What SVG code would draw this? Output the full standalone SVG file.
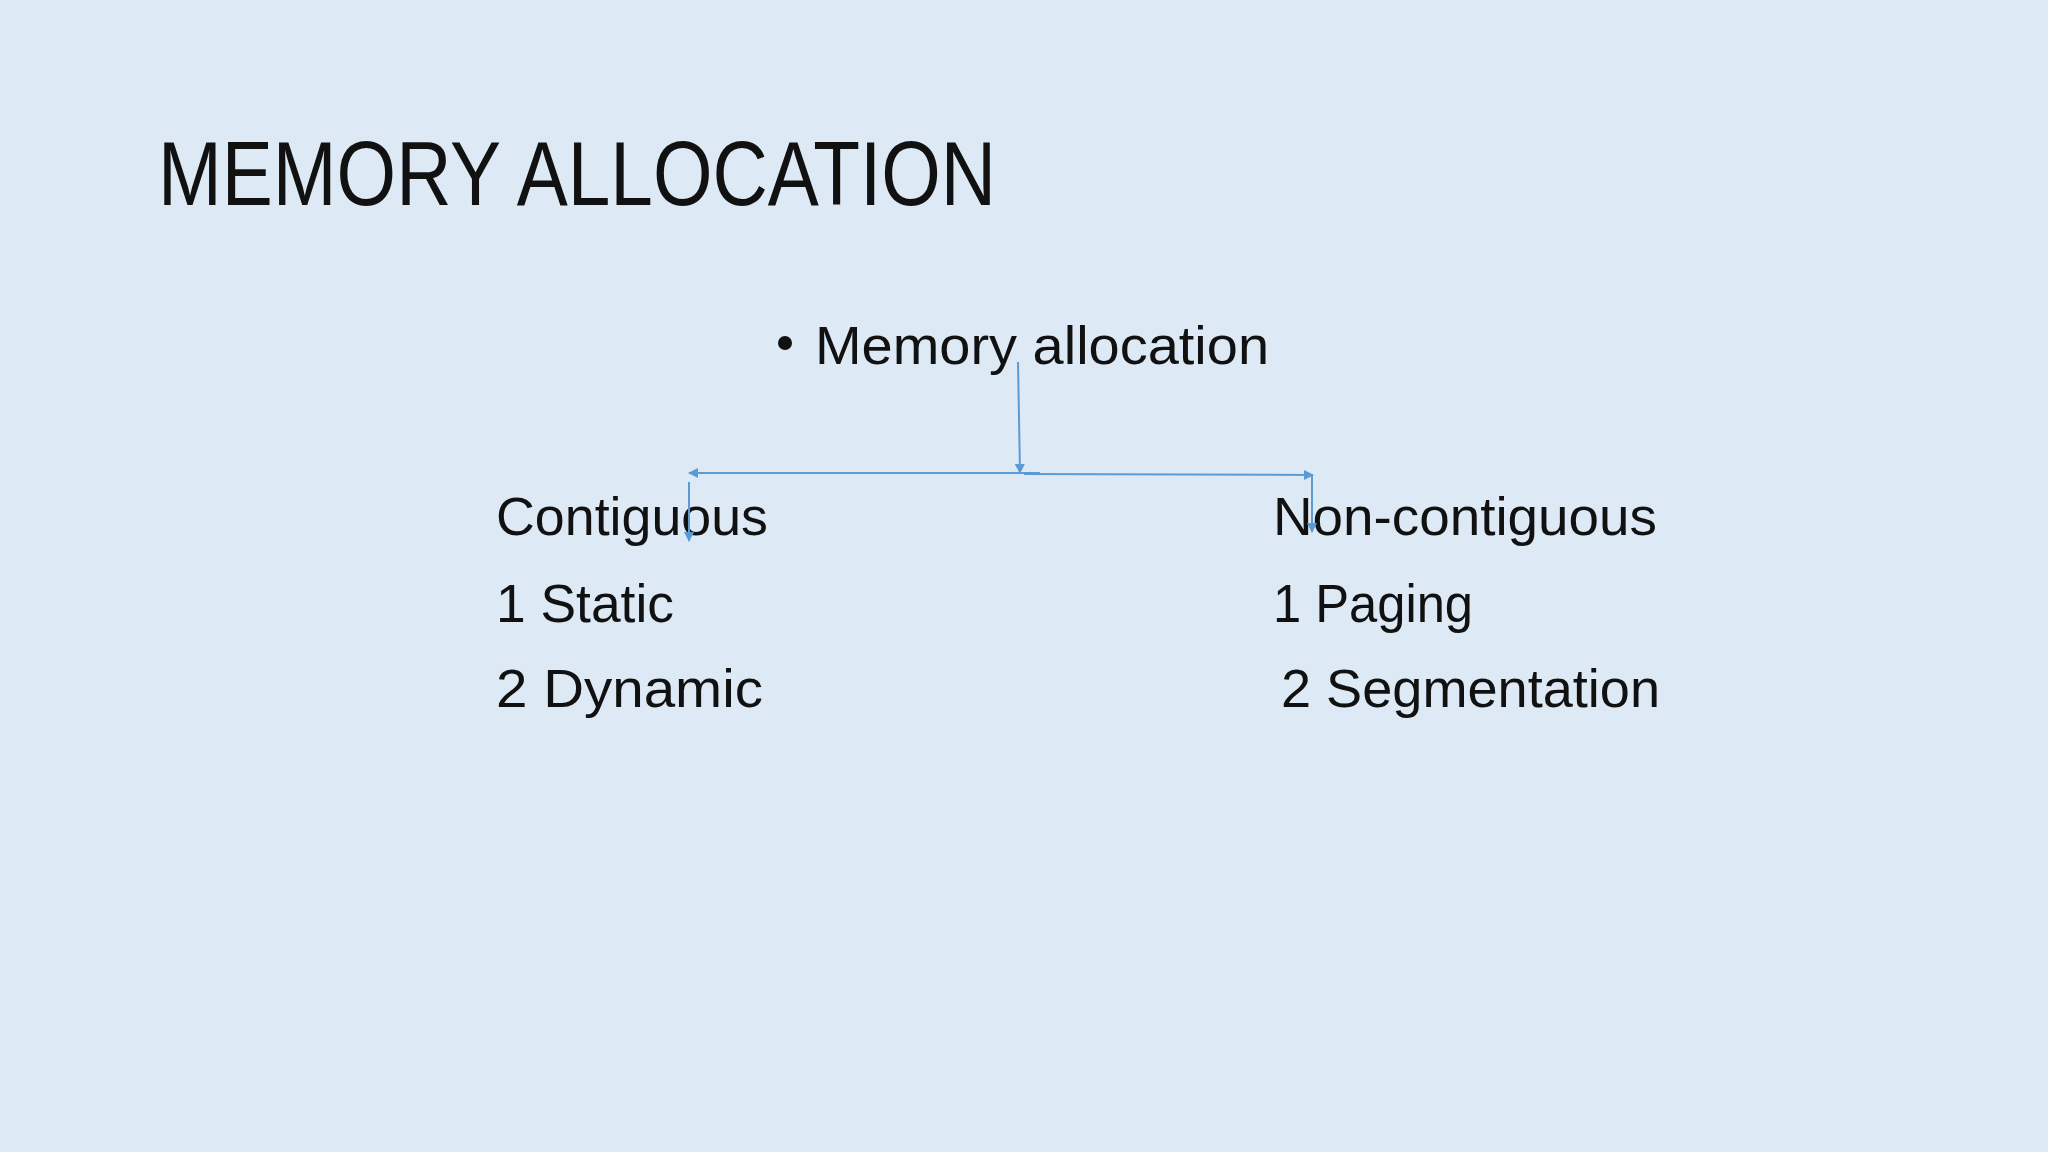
<svg xmlns="http://www.w3.org/2000/svg" width="2048" height="1152" viewBox="0 0 2048 1152">
<defs>
<marker id="ah" viewBox="0 0 10 10" refX="9" refY="5" markerWidth="5" markerHeight="5" orient="auto"><path d="M0,0 L10,5 L0,10 z" fill="#5b9bd5"/></marker>
<style>
text{font-family:"Liberation Sans","Open Sans",sans-serif;fill:#111}
.b{font-size:54px}
.c{stroke:#5b9bd5;stroke-width:2;fill:none}
</style>
</defs>
<rect width="2048" height="1152" fill="#dde9f5"/>
<g id="title"><text x="158" y="205" font-size="90" textLength="838" lengthAdjust="spacingAndGlyphs">MEMORY ALLOCATION</text></g>
<g id="root"><circle cx="785" cy="343" r="7" fill="#111"/><text class="b" x="815" y="364" textLength="454" lengthAdjust="spacingAndGlyphs">Memory allocation</text></g>
<g id="contiguous">
<text class="b" x="496" y="535" textLength="272" lengthAdjust="spacingAndGlyphs">Contiguous</text>
<text class="b" x="496" y="622" textLength="178" lengthAdjust="spacingAndGlyphs">1 Static</text>
<text class="b" x="496" y="707" textLength="267" lengthAdjust="spacingAndGlyphs">2  Dynamic</text>
</g>
<g id="noncontiguous">
<text class="b" x="1273" y="535" textLength="384" lengthAdjust="spacingAndGlyphs">Non-contiguous</text>
<text class="b" x="1273" y="622" textLength="200" lengthAdjust="spacingAndGlyphs">1 Paging</text>
<text class="b" x="1281" y="707" textLength="379" lengthAdjust="spacingAndGlyphs">2 Segmentation</text>
</g>
<g id="connectors">
<line class="c" x1="1018" y1="362" x2="1020" y2="473" marker-end="url(#ah)"/>
<line class="c" x1="1040" y1="473" x2="689" y2="473" marker-end="url(#ah)"/>
<line class="c" x1="1024" y1="474" x2="1313" y2="475" marker-end="url(#ah)"/>
<line class="c" x1="689" y1="482" x2="689" y2="541" marker-end="url(#ah)"/>
<line class="c" x1="1312" y1="476" x2="1312" y2="532" marker-end="url(#ah)"/>
</g>
</svg>
